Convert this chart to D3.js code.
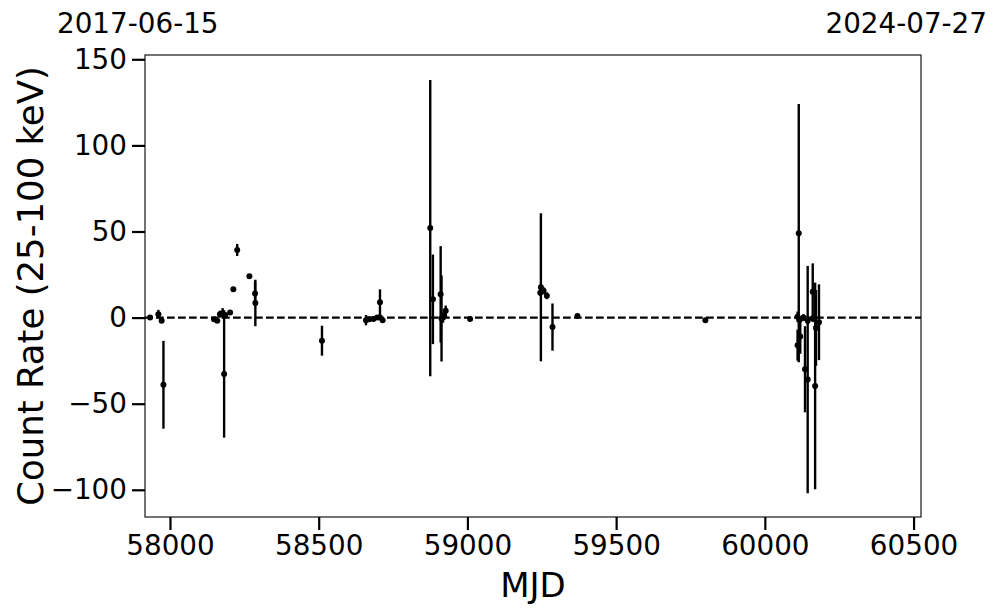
<!DOCTYPE html>
<html>
<head>
<meta charset="utf-8">
<script src="https://cdn.jsdelivr.net/npm/d3@7"></script>
<style>
  body { margin: 0; background: #fff; }
  text { font-family: "DejaVu Sans", sans-serif; fill: #000; }
</style>
</head>
<body>
<svg id="chart"></svg>
<script>
// canvas size
var width = 997,
    height = 613;

// plot box in pixels
var margin = {left: 145, right: 76, top: 55, bottom: 96};

// observation times (MJD)
var mjd = [
  57933, 57961, 57972, 57978,
  58148, 58159, 58168, 58177, 58182, 58185, 58202, 58213, 58226, 58267, 58286, 58287,
  58511,
  58659, 58670, 58684, 58697, 58706, 58706, 58715,
  58875, 58884, 58910, 58913, 58918, 58922, 58927, 59009,
  59245, 59247, 59256, 59267, 59286, 59370,
  59800,
  60110, 60110, 60114, 60117, 60119, 60130, 60135, 60144, 60144, 60161, 60161, 60169, 60172, 60182
];

// count rate 25-100 keV
var rate = [
  0, 2, -1.8, -39,
  -1, -1.8, 2, 2.5, -32.7, 1.5, 3, 16.5, 39.3, 24, 14, 8.5,
  -13.4,
  -1.5, -1, -0.8, 0, 0, 8.9, -1.5,
  52, 10.6, 13.5, -0.5, 0, 1, 4, -0.8,
  14.5, 17.6, 15.6, 12.7, -5.5, 1,
  -1.5,
  0.5, -16, 49, -1.4, -11, 0, -30, -1.8, -36, 15, -0.5, -39.7, -6, -2.7
];

// 1-sigma errors
var err = [
  1, 2.5, 1, 25.5,
  1, 1, 2, 3, 37, 1.5, 1, 1, 3.5, 1, 7, 13.5,
  8.7,
  3, 1, 1, 1, 1, 7.5, 1,
  86, 26, 28, 25, 3, 2, 3, 1,
  2, 43, 2, 2, 13.7, 1,
  1,
  3, 9, 75, 2, 10, 2, 25, 2, 66, 16.5, 2, 60, 22, 22
];

var xTicks = [58000, 58500, 59000, 59500, 60000, 60500];
var yTicks = [-100, -50, 0, 50, 100, 150];

var startDate = "2017-06-15", endDate = "2024-07-27";

var svg = d3.select("#chart")
  .attr("width", width)
  .attr("height", height);

var x = d3.scaleLinear()
  .domain([57916, 60525])
  .range([margin.left, width - margin.right]);

var y = d3.scaleLinear()
  .domain([-115.8, 152.5])
  .range([height - margin.bottom, margin.top]);

var minus = function(d) { return d < 0 ? "\u2212" + Math.abs(d) : "" + d; };

// axes
var xAxis = svg.append("g")
  .attr("transform", "translate(0," + (height - margin.bottom) + ")")
  .call(d3.axisBottom(x).tickValues(xTicks).tickFormat(d3.format("d"))
    .tickSizeInner(13).tickSizeOuter(0).tickPadding(5));

var yAxis = svg.append("g")
  .attr("transform", "translate(" + margin.left + ",0)")
  .call(d3.axisLeft(y).tickValues(yTicks).tickFormat(minus)
    .tickSizeInner(13).tickSizeOuter(0).tickPadding(5));

[xAxis, yAxis].forEach(function(a) {
  a.select(".domain").remove();
  a.selectAll(".tick line").attr("stroke", "#000").attr("stroke-width", 2.2);
  a.selectAll(".tick text")
    .style("font-family", "DejaVu Sans")
    .style("font-size", "27.8px");
});

// zero line
svg.append("line")
  .attr("x1", margin.left).attr("x2", width - margin.right)
  .attr("y1", y(0)).attr("y2", y(0))
  .attr("stroke", "#000")
  .attr("stroke-width", 2.1)
  .attr("stroke-dasharray", "7.7,3.3");

// error bars
var idx = d3.range(mjd.length);

svg.append("g").selectAll("line")
  .data(idx)
  .enter().append("line")
    .attr("x1", function(i) { return x(mjd[i]); })
    .attr("x2", function(i) { return x(mjd[i]); })
    .attr("y1", function(i) { return y(rate[i] - err[i]); })
    .attr("y2", function(i) { return y(rate[i] + err[i]); })
    .attr("stroke", "#000")
    .attr("stroke-width", 2.4);

// points
svg.append("g").selectAll("circle")
  .data(idx)
  .enter().append("circle")
    .attr("cx", function(i) { return x(mjd[i]); })
    .attr("cy", function(i) { return y(rate[i]); })
    .attr("r", 3)
    .attr("fill", "#000");

// frame
svg.append("rect")
  .attr("x", margin.left).attr("y", margin.top)
  .attr("width", width - margin.left - margin.right)
  .attr("height", height - margin.top - margin.bottom)
  .attr("fill", "none")
  .attr("stroke", "#000")
  .attr("stroke-width", 1.1);

// axis labels
svg.append("text")
  .attr("x", (margin.left + width - margin.right) / 2)
  .attr("y", 597)
  .attr("text-anchor", "middle")
  .style("font-size", "34px")
  .text("MJD");

svg.append("text")
  .attr("transform", "translate(43," + ((margin.top + height - margin.bottom) / 2) + ") rotate(-90)")
  .attr("text-anchor", "middle")
  .style("font-size", "35.5px")
  .text("Count Rate (25-100 keV)");

// date labels above the plot
svg.append("text")
  .attr("x", 57).attr("y", 33)
  .style("font-size", "27.8px")
  .text(startDate);

svg.append("text")
  .attr("x", 987).attr("y", 33)
  .attr("text-anchor", "end")
  .style("font-size", "27.8px")
  .text(endDate);
</script>
</body>
</html>
